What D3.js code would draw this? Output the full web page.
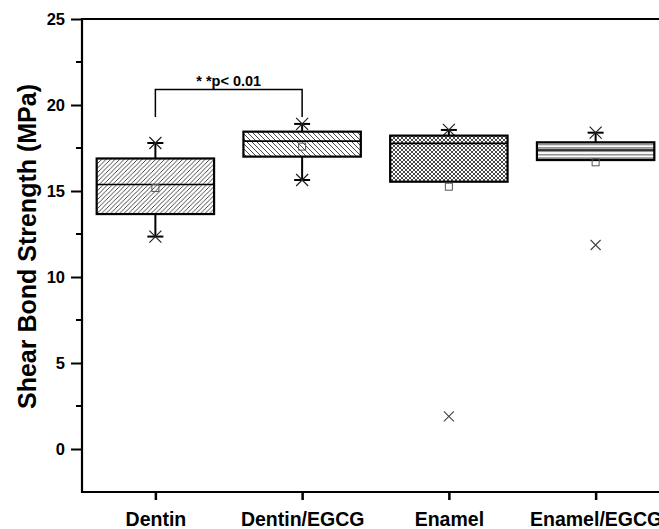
<!DOCTYPE html>
<html>
<head>
<meta charset="utf-8">
<script src="https://cdn.jsdelivr.net/npm/d3@7"></script>
<style>
  body { margin: 0; background: #fff; }
  svg { display: block; font-family: "Liberation Sans", Arial, sans-serif; }
</style>
</head>
<body>
<svg id="chart" width="659" height="529"></svg>
<script>
'use strict';

var categories = ['Dentin', 'Dentin/EGCG', 'Enamel', 'Enamel/EGCG'];
var q1Values = [13.66, 17.0, 15.54, 16.8];
var q3Values = [16.89, 18.45, 18.22, 17.83];
var medianValues = [15.38, 17.9, 17.77, 17.38];
var meanValues = [15.17, 17.58, 15.25, 16.67];
var maxValues = [17.79, 18.9, 18.55, 18.39];
var minValues = [12.35, 15.64, null, null];
var outlierValues = [[], [], [1.9], [11.86]];
var patternNames = ['hatchUp', 'hatchDown', 'crossHatch', 'hLines'];
var yTicks = [0, 5, 10, 15, 20, 25];
var yMinorTicks = [2.5, 7.5, 12.5, 17.5, 22.5];
var sigLabel = '* *p< 0.01';
var sigPair = ['Dentin', 'Dentin/EGCG'];
var sigLevels = [20.9, 19.3]; // bracket top, bracket legs

var svg = d3.select('#chart'),
  plotLeft = 82,
  plotTop = 19,
  plotBottom = 492,
  plotRight = 669;

var x = d3.scalePoint().domain(categories).range([plotLeft, plotRight]).padding(0.5);
var y = d3.scaleLinear().domain([-2.5, 25]).range([plotBottom, plotTop]);
var boxWidth = x.step() * 0.8;

// fill patterns
var defs = svg.append('defs');

function addPattern(id, size, lines) {
  var p = defs.append('pattern')
    .attr('id', id)
    .attr('patternUnits', 'userSpaceOnUse')
    .attr('width', size)
    .attr('height', size);
  p.append('rect').attr('width', size).attr('height', size).attr('fill', '#fff');
  lines.forEach(function (l) {
    p.append('line')
      .attr('x1', l[0]).attr('y1', l[1]).attr('x2', l[2]).attr('y2', l[3])
      .attr('stroke', '#333').attr('stroke-width', 0.9);
  });
}

addPattern('hatchUp', 4.5, [[-1, 5.5, 5.5, -1], [-1, 1, 1, -1], [3.5, 5.5, 5.5, 3.5]]);
addPattern('hatchDown', 5, [[-1, -1, 6, 6], [4, -1, 6, 1], [-1, 4, 1, 6]]);
addPattern('crossHatch', 4, [[-1, -1, 5, 5], [-1, 5, 5, -1]]);
addPattern('hLines', 3.4, [[0, 1.7, 3.4, 1.7]]);

// y axis
var yAxis = d3.axisLeft(y).tickValues(yTicks).tickSize(11).tickPadding(6);
var gy = svg.append('g').attr('transform', 'translate(' + plotLeft + ',0)').call(yAxis);
gy.select('.domain').remove();
gy.selectAll('.tick line').attr('stroke', '#000').attr('stroke-width', 2);
gy.selectAll('.tick text')
  .attr('font-size', 16.5).attr('font-weight', 'bold').attr('fill', '#000')
  .attr('font-family', '"Liberation Sans", Arial, sans-serif');

svg.append('g').selectAll('line').data(yMinorTicks).enter().append('line')
  .attr('x1', plotLeft - 6).attr('x2', plotLeft)
  .attr('y1', function (d) { return y(d); })
  .attr('y2', function (d) { return y(d); })
  .attr('stroke', '#000').attr('stroke-width', 2);

// x axis
var xAxis = d3.axisBottom(x).tickSize(8).tickPadding(12);
var gx = svg.append('g').attr('transform', 'translate(0,' + plotBottom + ')').call(xAxis);
gx.select('.domain').remove();
gx.selectAll('.tick line').attr('stroke', '#000').attr('stroke-width', 2.5);
gx.selectAll('.tick text')
  .attr('font-size', 19.5).attr('font-weight', 'bold').attr('fill', '#000')
  .attr('font-family', '"Liberation Sans", Arial, sans-serif');

// frame lines
svg.append('line').attr('x1', plotLeft).attr('x2', plotRight).attr('y1', plotTop).attr('y2', plotTop)
  .attr('stroke', '#000').attr('stroke-width', 2.2);
svg.append('line').attr('x1', plotLeft).attr('x2', plotRight).attr('y1', plotBottom).attr('y2', plotBottom)
  .attr('stroke', '#000').attr('stroke-width', 2.2);
svg.append('line').attr('x1', plotLeft).attr('x2', plotLeft).attr('y1', plotTop - 1).attr('y2', plotBottom + 1)
  .attr('stroke', '#000').attr('stroke-width', 2.2);

// y title
svg.append('text')
  .attr('transform', 'translate(36,' + ((plotTop + plotBottom) / 2 - 9) + ') rotate(-90)')
  .attr('text-anchor', 'middle')
  .attr('font-size', 25).attr('font-weight', 'bold').attr('fill', '#000')
  .text('Shear Bond Strength (MPa)');

// boxes
var rows = categories.map(function (c, i) {
  return {
    cat: c, q1: q1Values[i], q3: q3Values[i], med: medianValues[i], mean: meanValues[i],
    max: maxValues[i], min: minValues[i], outliers: outlierValues[i], pattern: patternNames[i]
  };
});

var g = svg.append('g').selectAll('g').data(rows).enter().append('g');

function asterisk(sel, cx, cy) {
  sel.append('line').attr('x1', cx - 8).attr('x2', cx + 8).attr('y1', cy).attr('y2', cy)
    .attr('stroke', '#000').attr('stroke-width', 2);
  sel.append('path')
    .attr('d', 'M' + (cx - 6) + ',' + (cy - 6) + 'L' + (cx + 6) + ',' + (cy + 6) +
      'M' + (cx - 6) + ',' + (cy + 6) + 'L' + (cx + 6) + ',' + (cy - 6))
    .attr('stroke', '#222').attr('stroke-width', 1.2).attr('fill', 'none');
}

g.each(function (d) {
  var sel = d3.select(this), cx = x(d.cat);
  // upper whisker
  sel.append('line').attr('x1', cx).attr('x2', cx).attr('y1', y(d.q3)).attr('y2', y(d.max))
    .attr('stroke', '#000').attr('stroke-width', 2);
  asterisk(sel, cx, y(d.max));
  if (d.min !== null) {
    sel.append('line').attr('x1', cx).attr('x2', cx).attr('y1', y(d.q1)).attr('y2', y(d.min))
      .attr('stroke', '#000').attr('stroke-width', 2);
    asterisk(sel, cx, y(d.min));
  }
  sel.append('rect')
    .attr('x', cx - boxWidth / 2).attr('width', boxWidth)
    .attr('y', y(d.q3)).attr('height', y(d.q1) - y(d.q3))
    .attr('fill', 'url(#' + d.pattern + ')')
    .attr('stroke', '#000').attr('stroke-width', 2.2);
  sel.append('line')
    .attr('x1', cx - boxWidth / 2).attr('x2', cx + boxWidth / 2)
    .attr('y1', y(d.med)).attr('y2', y(d.med))
    .attr('stroke', '#000').attr('stroke-width', 1.6);
  sel.append('rect')
    .attr('x', cx - 3.5).attr('y', y(d.mean) - 3.5).attr('width', 7).attr('height', 7)
    .attr('fill', 'none').attr('stroke', '#555').attr('stroke-width', 1);
  d.outliers.forEach(function (v) {
    var oy = y(v);
    sel.append('path')
      .attr('d', 'M' + (cx - 5) + ',' + (oy - 5) + 'L' + (cx + 5) + ',' + (oy + 5) +
        'M' + (cx - 5) + ',' + (oy + 5) + 'L' + (cx + 5) + ',' + (oy - 5))
      .attr('stroke', '#444').attr('stroke-width', 1.1).attr('fill', 'none');
  });
});

// significance bracket
var bx1 = x(sigPair[0]), bx2 = x(sigPair[1]);
svg.append('path')
  .attr('d', 'M' + bx1 + ',' + y(sigLevels[1]) + 'V' + y(sigLevels[0]) +
    'H' + bx2 + 'V' + y(sigLevels[1]))
  .attr('fill', 'none').attr('stroke', '#000').attr('stroke-width', 1.5);
svg.append('text')
  .attr('x', (bx1 + bx2) / 2).attr('y', y(sigLevels[0]) - 4)
  .attr('text-anchor', 'middle')
  .attr('font-size', 14.5).attr('font-weight', 'bold').attr('fill', '#000')
  .text(sigLabel);
</script>
</body>
</html>
